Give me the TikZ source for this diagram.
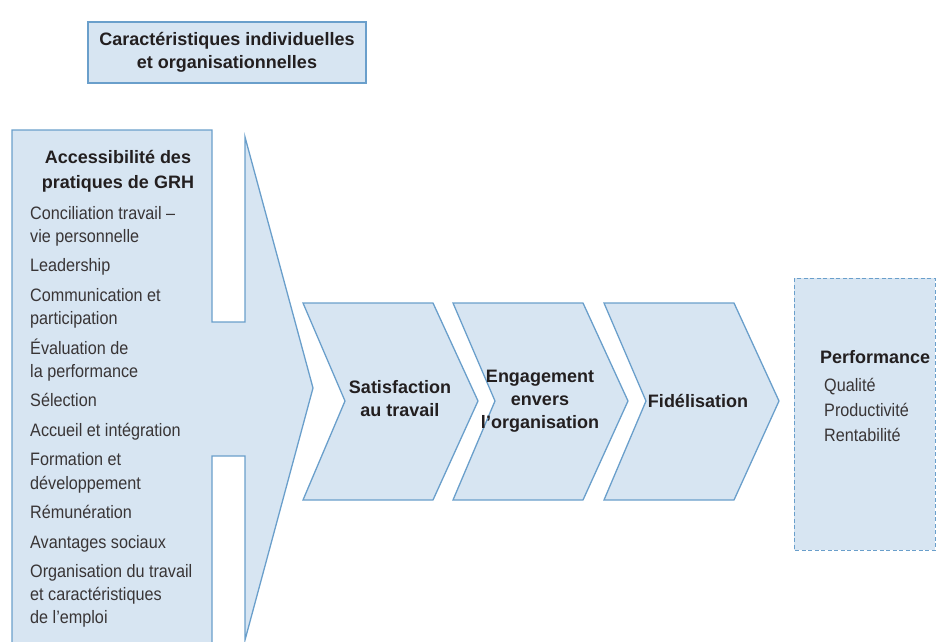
\documentclass[tikz,border=0pt]{standalone}
\usepackage{fontspec}
\setmainfont{Liberation Sans}
\newfontfamily\narrowfont{Liberation Sans}[FakeStretch=0.9, Ligatures=TeX]
\usetikzlibrary{positioning}
\definecolor{grhfill}{HTML}{D7E5F2}
\definecolor{grhline}{HTML}{6A9FCB}
\definecolor{grhtext}{HTML}{231F20}
\tikzset{
  grhshape/.style={draw=grhline, fill=grhfill, line width=1.3pt, line join=miter},
  perfshape/.style={grhshape, line width=1pt, dash pattern=on 4pt off 2.5pt},
  headlab/.style={font=\fontsize{18}{23}\selectfont\bfseries, text=grhtext, align=center, inner sep=0pt},
  itemlab/.style={font=\narrowfont\fontsize{18}{23.2}\selectfont, text=grhtext!90, align=left, inner sep=0pt},
}

\begin{document}
\begin{tikzpicture}[x=1pt, y=-1pt]
\clip (0,0) rectangle (938,641);
% individual and organisational traits
\draw[grhshape] (88,22) rectangle (366,83);
\node[headlab] (traits) at (227,52) {Caractéristiques individuelles\\et organisationnelles};
% HRM practices box with its big arrow
\draw[grhshape] (12,660) -- (12,130) -- (212,130) -- (212,322) -- (245,322) -- (245,137)
  -- (313,388) -- (245,640) -- (245,456) -- (212,456) -- (212,660) -- cycle;
\node[headlab, font=\fontsize{18}{25}\selectfont\bfseries] (grh) at (118,171) {Accessibilité des\\pratiques de GRH};
\node[itemlab, anchor=north west] (practices) at (30,206) {Conciliation travail –\\vie personnelle\\[6.3pt]
  Leadership\\[6.3pt]
  Communication et\\participation\\[6.3pt]
  Évaluation de\\la performance\\[6.3pt]
  Sélection\\[6.3pt]
  Accueil et intégration\\[6.3pt]
  Formation et\\développement\\[6.3pt]
  Rémunération\\[6.3pt]
  Avantages sociaux\\[6.3pt]
  Organisation du travail\\et caractéristiques\\de l’emploi};
% the three chevrons
\foreach \x in {303,453,604}
  \draw[grhshape] (\x,303) -- ++(130,0) -- ++(45,98) -- ++(-45,99) -- ++(-130,0) -- ++(42,-99) -- cycle;
\node[headlab] (satisfaction) at (400,399) {Satisfaction\\au travail};
\node[headlab] (engagement) at (540,401) {Engagement\\envers\\l’organisation};
\node[headlab] (fidelisation) at (698,401) {Fidélisation};
% performance
\draw[perfshape] (794,278) rectangle (935,550);
\node[headlab, anchor=west] (perf) at (820,357) {Performance};
\node[itemlab, font=\narrowfont\fontsize{18}{25}\selectfont, anchor=north west] (perfitems) at (824,378) {Qualité\\Productivité\\Rentabilité};
\end{tikzpicture}
\end{document}
